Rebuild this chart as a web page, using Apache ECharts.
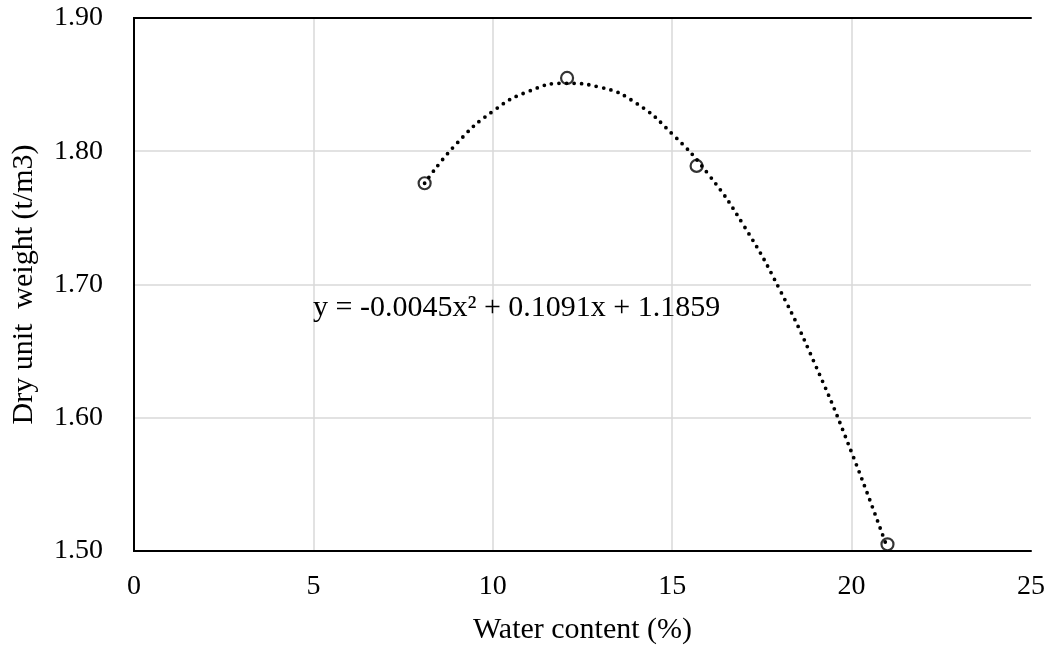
<!DOCTYPE html>
<html>
<head>
<meta charset="utf-8">
<script src="https://cdn.jsdelivr.net/npm/echarts@6/dist/echarts.min.js"></script>
<style>html,body{margin:0;padding:0;background:#fff}#c{width:1054px;height:654px}</style>
</head>
<body>
<div id="c"></div>
<script>
// Measured points: [water content %, dry unit weight t/m3]
var measuredPoints = [[8.1, 1.776], [12.07, 1.855], [15.68, 1.789], [21.0, 1.505]];
// Polynomial trendline
var trendPoints = [[8.1, 1.776], [9, 1.806], [10, 1.830], [11, 1.845], [12, 1.851], [13, 1.848],
  [14, 1.836], [15, 1.813], [16, 1.783], [17, 1.744], [18, 1.696], [19, 1.639], [20, 1.574], [21, 1.502]];
var equationText = 'y = -0.0045x\u00B2 + 0.1091x + 1.1859';
var xTitle = 'Water content (%)';
var yTitle = 'Dry unit  weight (t/m3)';

var font = '"Liberation Serif", "Times New Roman", serif';
var frame = {show: true, lineStyle: {color: '#000', width: 2}};
var grid = {color: '#d9d9d9', width: 1.5};
var chart = echarts.init(document.getElementById('c'), null, {renderer: 'canvas'});
chart.setOption({
  animation: false,
  backgroundColor: '#fff',
  grid: {left: 134, right: 23, top: 18, bottom: 103, show: false, containLabel: false},
  xAxis: [{
    type: 'value', min: 0, max: 25, interval: 5,
    name: xTitle, nameLocation: 'middle', nameGap: 64,
    nameTextStyle: {fontFamily: font, fontSize: 30, color: '#000'},
    axisLine: frame,
    axisTick: {show: false},
    axisLabel: {fontFamily: font, fontSize: 28, color: '#000', margin: 22},
    splitLine: {show: true, showMinLine: false, showMaxLine: false, lineStyle: grid}
  }, {
    type: 'value', min: 0, max: 25, interval: 5, position: 'top',
    axisLine: frame, axisTick: {show: false}, axisLabel: {show: false}, splitLine: {show: false}
  }],
  yAxis: [{
    type: 'value', min: 1.5, max: 1.9, interval: 0.1,
    name: yTitle, nameLocation: 'middle', nameGap: 95,
    nameTextStyle: {fontFamily: font, fontSize: 30, color: '#000'},
    axisLine: frame,
    axisTick: {show: false},
    axisLabel: {fontFamily: font, fontSize: 28, color: '#000', margin: 31,
      formatter: function (v) { return v.toFixed(2); }},
    splitLine: {show: true, showMinLine: false, showMaxLine: false, lineStyle: grid}
  }, {
    type: 'value', min: 1.5, max: 1.9, interval: 0.1, position: 'right',
    axisLine: frame, axisTick: {show: false}, axisLabel: {show: false}, splitLine: {show: false}
  }],
  graphic: [{
    type: 'text', left: 313, top: 293, z: 10,
    style: {text: equationText, font: '30px ' + font, fill: '#000'}
  }],
  series: [{
    type: 'line', data: trendPoints, smooth: true, showSymbol: false, symbol: 'none',
    lineStyle: {color: '#000', width: 3.8, type: [0, 7.5], cap: 'round'},
    clip: true, z: 2
  }, {
    type: 'scatter', data: measuredPoints, symbol: 'circle', symbolSize: 12,
    itemStyle: {color: 'rgba(0,0,0,0)', borderColor: '#000', borderWidth: 2.2},
    clip: false, z: 3
  }]
});
</script>
</body>
</html>
